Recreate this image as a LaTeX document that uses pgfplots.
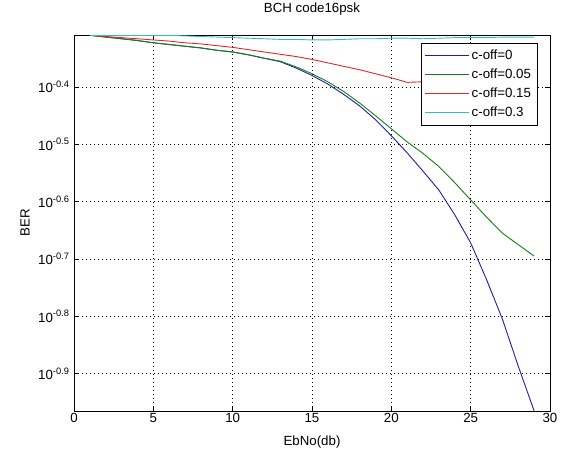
\documentclass[border=0pt]{standalone}
\usepackage{fontspec}
\setmainfont{Liberation Sans}
\usepackage{pgfplots}
\pgfplotsset{compat=1.18}
\usepackage{pgfplotstable}

\definecolor{mblue}{RGB}{30,30,170}
\definecolor{mgreen}{RGB}{20,128,20}
\definecolor{mred}{RGB}{225,40,40}
\definecolor{mcyan}{RGB}{50,190,190}

% BER, EbNo = 1..29 dB
\pgfplotstableread{
x   c0      c005    c015    c03
1   0.4898  0.4898  0.4898  0.4898
2   0.4864  0.4864  0.4875  0.4898
3   0.4831  0.4831  0.4853  0.4898
4   0.4797  0.4797  0.4831  0.4898
5   0.4753  0.4753  0.4808  0.4898
6   0.4721  0.4721  0.4786  0.4898
7   0.4688  0.4688  0.4753  0.4887
8   0.4656  0.4656  0.4732  0.4875
9   0.4613  0.4613  0.4699  0.4864
10  0.4581  0.4581  0.4667  0.4853
11  0.4529  0.4529  0.4624  0.4842
12  0.4467  0.4467  0.4581  0.4831
13  0.4406  0.4416  0.4539  0.4819
14  0.4295  0.4315  0.4498  0.4819
15  0.4169  0.4198  0.4446  0.4808
16  0.4027  0.4064  0.4385  0.4808
17  0.3864  0.3908  0.4325  0.4819
18  0.3690  0.3733  0.4266  0.4831
19  0.3491  0.3548  0.4198  0.4831
20  0.3273  0.3365  0.4130  0.4842
21  0.3055  0.3192  0.4055  0.4842
22  0.2838  0.3048  0.4064  0.4831
23  0.2630  0.2891  0.4074  0.4842
24  0.2382  0.2710  0.4083  0.4853
25  0.2128  0.2529  0.4083  0.4853
26  0.1837  0.2360  0.4093  0.4853
27  0.1567  0.2213  0.4093  0.4864
28  0.1297  0.2113  0.4102  0.4864
29  0.1084  0.2018  0.4102  0.4864
}\bertable

\begin{document}
\begin{tikzpicture}
\begin{axis}[
  scale only axis,
  width=476pt, height=375.6pt,
  ymode=log,
  xmin=0, xmax=30, ymin=0.1084, ymax=0.49,
  xtick={0,5,...,30},
  ytick={0.3981,0.3162,0.2512,0.1995,0.1585,0.1259},
  yticklabels={10\textsuperscript{-0.4},10\textsuperscript{-0.5},10\textsuperscript{-0.6},10\textsuperscript{-0.7},10\textsuperscript{-0.8},10\textsuperscript{-0.9}},
  /pgf/number format/assume math mode=true,
  tick label style={font=\fontsize{13.3}{15}\selectfont},
  yticklabel style={xshift=-1pt},
  xticklabel style={yshift=1pt},
  tick align=inside, major tick length=5pt,
  minor tick num=0,
  axis line style={line width=0.6pt},
  every tick/.style={black, line width=0.6pt},
  grid=major,
  grid style={black, line width=0.6pt, dash pattern=on 1pt off 3pt},
  title={BCH code16psk},
  title style={font=\fontsize{13.3}{15}\selectfont, at={(axis description cs:0.5,1)}, anchor=center, yshift=19.7pt},
  xlabel={EbNo(db)},
  xlabel style={font=\fontsize{13.3}{15}\selectfont, at={(axis description cs:0.5,0)}, anchor=center, yshift=-31pt},
  ylabel={BER},
  ylabel style={font=\fontsize{13.3}{15}\selectfont, at={(axis description cs:0,0.5)}, anchor=center, yshift=49pt},
  legend cell align=left,
  legend style={at={(0.9733,0.9806)}, anchor=north east, draw=black, fill=white,
    line width=0.6pt, font=\fontsize{13.3}{15}\selectfont, row sep=4pt,
    inner xsep=4pt, inner ysep=5pt},
  legend image code/.code={\draw[#1, line width=0.9pt] (0pt,0pt) -- (44pt,0pt);},
]
\addplot[mblue, line width=0.9pt] table[x=x, y=c0] {\bertable};
\addlegendentry{c-off=0}
\addplot[mgreen, line width=0.9pt] table[x=x, y=c005] {\bertable};
\addlegendentry{c-off=0.05}
\addplot[mred, line width=0.9pt] table[x=x, y=c015] {\bertable};
\addlegendentry{c-off=0.15}
\addplot[mcyan, line width=0.9pt] table[x=x, y=c03] {\bertable};
\addlegendentry{c-off=0.3}
\end{axis}
\path[use as bounding box] (-74pt,-38.7pt) rectangle (489pt,407.3pt);
\end{tikzpicture}
\end{document}
